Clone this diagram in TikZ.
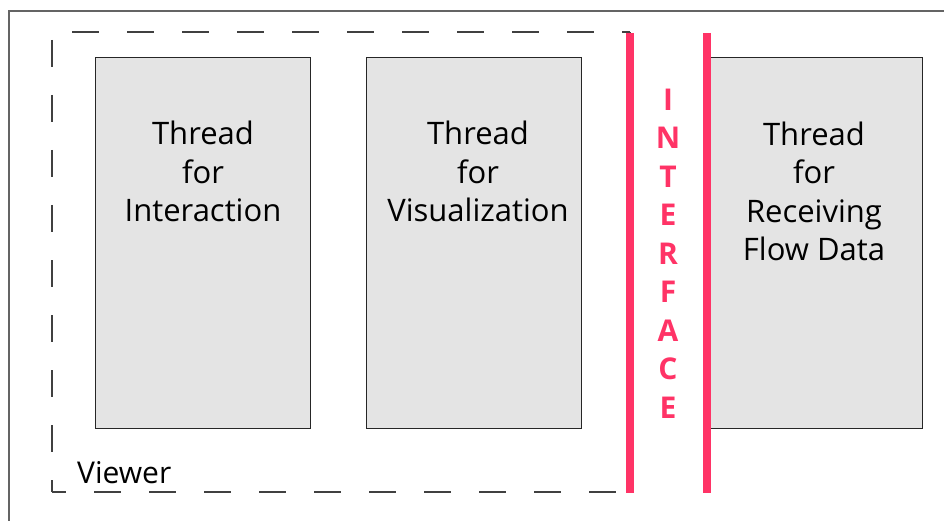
\documentclass[tikz,border=0pt]{standalone}
\usepackage{fontspec}
\setmainfont{Open Sans}
\definecolor{ifpink}{RGB}{255,51,102}
\definecolor{boxfill}{RGB}{228,228,228}
\definecolor{frame}{RGB}{100,100,100}
\begin{document}
\begin{tikzpicture}[x=1pt,y=-1pt,
  threadbox/.style={draw=black!85,line width=1.1pt,fill=boxfill,minimum width=#1,inner sep=0pt,anchor=north west},
  threadbox/.default=215pt,
  threadtext/.style={align=center,inner sep=0pt,anchor=base,font=\fontsize{31}{38.5}\selectfont},
  viewerdash/.style={draw=black!75,line width=1.2pt,dash pattern=on 27pt off 28pt},
  ifline/.style={draw=ifpink,line width=8pt},
  iftext/.style={align=center,inner sep=0pt,anchor=base,text=ifpink,font=\bfseries\fontsize{30}{38.5}\selectfont}]
  \useasboundingbox (0,0) rectangle (944,521);

  % outer frame (runs off the right and bottom edges)
  \draw[frame,line width=1.5pt] (9,530) -- (9,11) -- (950,11);

  % dashed viewer boundary, one side at a time so the dash phases line up
  \coordinate (vtl) at (52,32);
  \coordinate (vbl) at (52,492);
  \coordinate (vtr) at (630,32);
  \coordinate (vbr) at (630,492);
  \draw[viewerdash,dash phase=35pt] (vtl) -- (vtr);
  \draw[viewerdash,dash phase=47pt] (vtl) -- (vbl);
  \draw[viewerdash,dash phase=13pt] (vbl) -- (vbr);
  \draw[viewerdash] (vbr) -- (vtr);

  % thread boxes
  \node[threadbox=215pt,minimum height=371pt] (interaction) at (95,57) {};
  \node[threadbox=215pt,minimum height=371pt] (visualization) at (366,57) {};
  \node[threadbox=212pt,minimum height=371pt] (receiving) at (710,57) {};

  % multi-line labels: the base anchor sits on the last line
  \node[threadtext] (tinteraction) at (203,222) {Thread\\for\\Interaction};
  \node[threadtext] (tvisualization) at (478,222) {Thread\\for\\Visualization};
  \node[threadtext] (treceiving) at (814,260.5) {Thread\\for\\Receiving\\Flow Data};

  % interface band
  \coordinate (ifla) at (630,33);
  \coordinate (iflb) at (630,493);
  \coordinate (ifra) at (706.5,33);
  \coordinate (ifrb) at (706.5,493);
  \draw[ifline] (ifla) -- (iflb);
  \draw[ifline] (ifra) -- (ifrb);
  \node[iftext] (interface) at (668,418) {I\\N\\T\\E\\R\\F\\A\\C\\E};

  % viewer label
  \node[anchor=base west,inner sep=0pt,font=\fontsize{30}{36}\selectfont] (viewer) at (77,483) {Viewer};
\end{tikzpicture}
\end{document}
